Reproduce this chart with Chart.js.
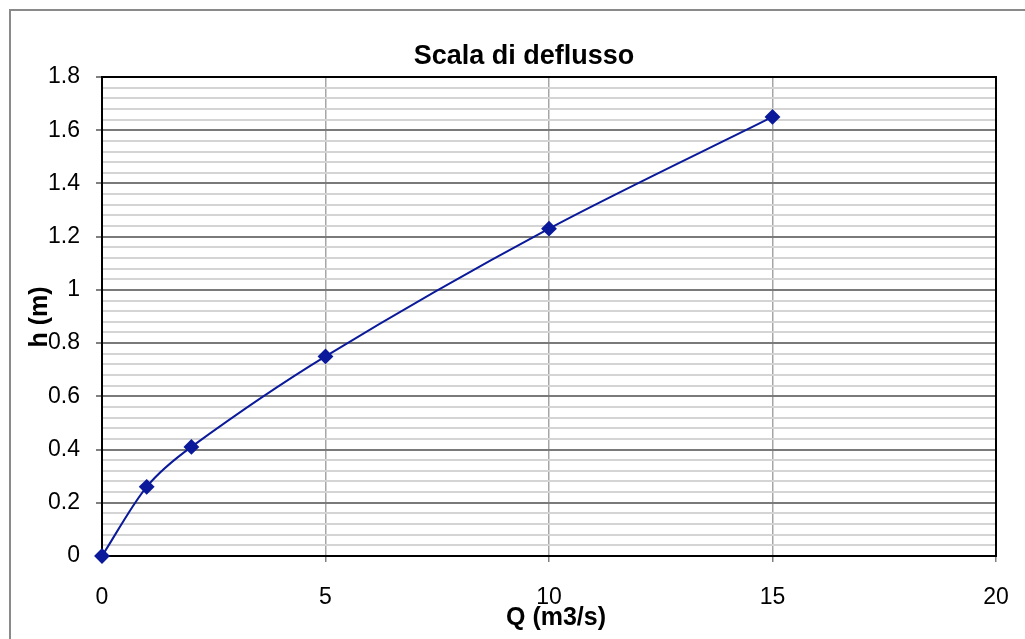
<!DOCTYPE html>
<html>
<head>
<meta charset="utf-8">
<script src="https://cdn.jsdelivr.net/npm/chart.js@4"></script>
<style>
  html, body { margin: 0; padding: 0; background: #fff; }
  #wrap { width: 1025px; height: 639px; }
</style>
</head>
<body>
<div id="wrap"><canvas id="chart" width="1025" height="639"></canvas></div>
<script>
// portata (m3/s) e altezza idrometrica (m)
const portate = [0, 1, 2, 5, 10, 15];
const altezze = [0, 0.26, 0.41, 0.75, 1.23, 1.65];
const xTicks = [0, 5, 10, 15, 20];
const yTicks = [0, 0.2, 0.4, 0.6, 0.8, 1, 1.2, 1.4, 1.6, 1.8];

const titolo = 'Scala di deflusso';
const titoloX = 'Q (m3/s)';
const titoloY = 'h (m)';

const FONT = '"Liberation Sans", Arial, sans-serif';

function isMajor(v) {
    return yTicks.some(t => Math.abs(t - v) < 1e-6);
}

// cornice, riquadro del grafico e testi
const decorations = {
    id: 'decorations',
    beforeDraw(chart) {
        const ctx = chart.ctx;
        ctx.save();
        ctx.strokeStyle = '#8a8a8a';
        ctx.lineWidth = 2;
        ctx.beginPath();
        ctx.moveTo(10, 639);
        ctx.lineTo(10, 10);
        ctx.lineTo(1025, 10);
        ctx.stroke();
        ctx.restore();
    },
    beforeDatasetsDraw(chart) {
        const { ctx, chartArea: a } = chart;
        ctx.save();
        ctx.strokeStyle = '#000';
        ctx.lineWidth = 2;
        ctx.strokeRect(a.left, a.top, a.right - a.left, a.bottom - a.top);
        ctx.restore();
    },
    afterDraw(chart) {
        const { ctx } = chart;
        ctx.save();
        ctx.fillStyle = '#000';
        ctx.textAlign = 'center';
        ctx.textBaseline = 'middle';
        ctx.font = 'bold 27px ' + FONT;
        ctx.fillText(titolo, 524, 57);
        ctx.font = 'bold 25px ' + FONT;
        ctx.fillText(titoloX, 556, 618);
        ctx.translate(40, 317);
        ctx.rotate(-Math.PI / 2);
        ctx.fillText(titoloY, 0, 0);
        ctx.restore();
    }
};

new Chart(document.getElementById('chart'), {
    type: 'scatter',
    data: {
        datasets: [{
            data: portate.map((q, i) => ({ x: q, y: altezze[i] })),
            showLine: true,
            borderColor: '#0a1a9a',
            backgroundColor: '#0a1a9a',
            borderWidth: 2,
            tension: 0.3,
            pointStyle: 'rectRot',
            pointRadius: 6.5,
            pointHoverRadius: 6.5,
            clip: false
        }]
    },
    options: {
        responsive: false,
        animation: false,
        layout: { padding: { top: 77, right: 29, left: 0, bottom: 0 } },
        plugins: {
            legend: { display: false },
            tooltip: { enabled: false },
            title: { display: false }
        },
        scales: {
            x: {
                type: 'linear',
                min: 0,
                max: 20,
                afterFit: s => {
                    s.height = 83;
                    s.paddingLeft = 0;
                    s.paddingRight = 0;
                },
                afterBuildTicks: s => { s.ticks = xTicks.map(v => ({ value: v })); },
                border: { display: false },
                grid: {
                    color: ctx => (ctx.tick && (ctx.tick.value === 0 || ctx.tick.value === 20)) ? 'rgba(0,0,0,0)' : '#a6a6a6',
                    tickColor: '#808080',
                    lineWidth: 1.5,
                    tickLength: 6
                },
                ticks: {
                    color: '#000',
                    padding: 22,
                    maxRotation: 0,
                    font: { family: FONT, size: 23 }
                }
            },
            y: {
                type: 'linear',
                min: 0,
                max: 1.8,
                afterFit: s => {
                    s.width = 102;
                    s.paddingTop = 0;
                    s.paddingBottom = 0;
                },
                afterBuildTicks: s => {
                    const t = [];
                    for (let i = 0; i <= 45; i++) t.push({ value: +(i * 0.04).toFixed(2) });
                    s.ticks = t;
                },
                border: { display: false },
                grid: {
                    color: ctx => {
                        const v = ctx.tick ? ctx.tick.value : 0;
                        return isMajor(v) ? '#7a7a7a' : '#d4d4d4';
                    },
                    lineWidth: 2,
                    tickColor: ctx => (ctx.tick && isMajor(ctx.tick.value)) ? '#808080' : 'rgba(0,0,0,0)',
                    tickLength: 6
                },
                ticks: {
                    color: '#000',
                    padding: 16,
                    autoSkip: false,
                    font: { family: FONT, size: 23 },
                    callback: v => isMajor(v) ? String(+v.toFixed(1)) : ''
                }
            }
        }
    },
    plugins: [decorations]
});
</script>
</body>
</html>
